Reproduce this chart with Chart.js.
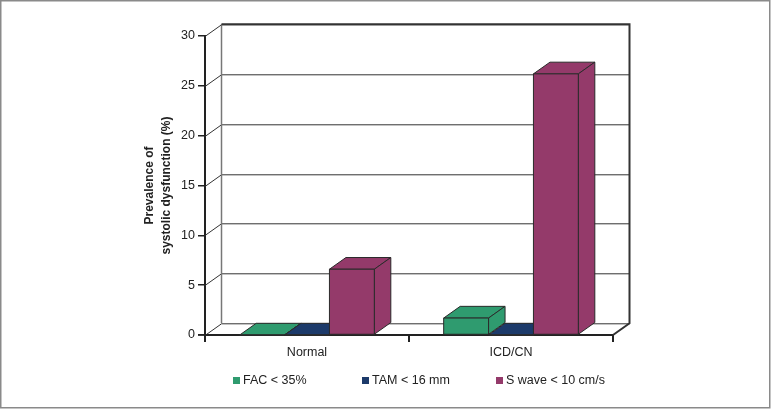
<!DOCTYPE html>
<html>
<head>
<meta charset="utf-8">
<script src="https://cdn.jsdelivr.net/npm/chart.js@4.4.1/dist/chart.umd.min.js"></script>
<style>
  html, body { margin: 0; padding: 0; background: #fff; }
  canvas { display: block; }
</style>
</head>
<body>
<canvas id="myChart" width="771" height="409"></canvas>
<script>
// data
const categories = ["Normal", "ICD/CN"];
const seriesNames = ["FAC < 35%", "TAM < 16 mm", "S wave < 10 cm/s"];
const facValues = [0, 1.7];
const tamValues = [0, 0];
const sWaveValues = [6.6, 26.2];
const yTicks = [0, 5, 10, 15, 20, 25, 30];
const seriesColors = ["#2f9b6f", "#1c3a6a", "#943a6a"];

const FONT = "'Liberation Sans', Arial, sans-serif";
const DX = 16.5; // depth offset of the 3d box
const DY = 11.7;

// draws the back wall, floor and the 3d bars instead of the flat ones
const box3d = {
  id: "box3d",
  beforeDatasetsDraw(chart) {
    const { ctx, chartArea: { left, right, bottom }, scales: { y } } = chart;
    const topY = y.getPixelForValue(30);
    ctx.save();

    // gridlines on the back wall + diagonals from the front axis
    ctx.strokeStyle = "#333";
    ctx.lineWidth = 1;
    yTicks.forEach((v) => {
      const py = Math.round(y.getPixelForValue(v)) + 0.5;
      ctx.beginPath();
      ctx.moveTo(left, py);
      ctx.lineTo(left + DX, py - DY);
      ctx.lineTo(right + DX, py - DY);
      ctx.stroke();
    });

    // left edge of back wall
    ctx.strokeStyle = "#777";
    ctx.lineWidth = 1.5;
    ctx.beginPath();
    ctx.moveTo(left + DX, topY - DY);
    ctx.lineTo(left + DX, bottom - DY);
    ctx.stroke();

    // top and right edge
    ctx.strokeStyle = "#333";
    ctx.lineWidth = 2;
    ctx.beginPath();
    ctx.moveTo(left + DX, topY - DY);
    ctx.lineTo(right + DX, topY - DY);
    ctx.lineTo(right + DX, bottom - DY);
    ctx.lineTo(right, bottom);
    ctx.stroke();

    // zero tick crosses the axis
    ctx.lineWidth = 1.5;
    ctx.strokeStyle = "#222";
    ctx.beginPath();
    ctx.moveTo(left - 7, bottom);
    ctx.lineTo(left + 5, bottom);
    ctx.stroke();

    // bars, left to right so the nearer faces cover
    ctx.strokeStyle = "#2a2a2a";
    ctx.lineWidth = 1;
    ctx.lineJoin = "round";
    categories.forEach((c, j) => {
      chart.data.datasets.forEach((ds, i) => {
        const bar = chart.getDatasetMeta(i).data[j];
        const { x, y: ty, base, width } = bar.getProps(["x", "y", "base", "width"], true);
        const x0 = x - width / 2;
        const x1 = x + width / 2;
        ctx.fillStyle = ds.backgroundColor;

        // top
        ctx.beginPath();
        ctx.moveTo(x0, ty);
        ctx.lineTo(x0 + DX, ty - DY);
        ctx.lineTo(x1 + DX, ty - DY);
        ctx.lineTo(x1, ty);
        ctx.closePath();
        ctx.fill();
        ctx.stroke();

        // side
        ctx.beginPath();
        ctx.moveTo(x1, ty);
        ctx.lineTo(x1 + DX, ty - DY);
        ctx.lineTo(x1 + DX, base - DY);
        ctx.lineTo(x1, base);
        ctx.closePath();
        ctx.fill();
        ctx.stroke();

        // front
        ctx.beginPath();
        ctx.rect(x0, ty, width, base - ty);
        ctx.fill();
        ctx.stroke();
      });
    });

    ctx.restore();
    return false;
  },
  afterDraw(chart) {
    const { ctx } = chart;
    ctx.save();
    // legend
    const itemX = [233, 362, 496];
    ctx.font = "12.5px " + FONT;
    ctx.textBaseline = "middle";
    chart.data.datasets.forEach((ds, i) => {
      ctx.fillStyle = ds.backgroundColor;
      ctx.fillRect(itemX[i], 377, 7, 7);
      ctx.fillStyle = "#222";
      ctx.fillText(ds.label, itemX[i] + 10, 381);
    });
    // frame round the figure
    ctx.strokeStyle = "#8a8a8a";
    ctx.lineWidth = 1.5;
    ctx.strokeRect(0.75, 0.75, 769, 407);
    ctx.restore();
  },
};

const data = {
  labels: categories,
  datasets: [
    { label: seriesNames[0], data: facValues, backgroundColor: seriesColors[0] },
    { label: seriesNames[1], data: tamValues, backgroundColor: seriesColors[1] },
    { label: seriesNames[2], data: sWaveValues, backgroundColor: seriesColors[2] },
  ],
};

const config = {
  type: "bar",
  data: data,
  options: {
    responsive: false,
    animation: false,
    categoryPercentage: 0.66,
    barPercentage: 1,
    layout: { padding: { top: 36, left: 140, right: 158, bottom: 44 } },
    plugins: {
      legend: { display: false },
      tooltip: { enabled: false },
    },
    scales: {
      x: {
        afterFit(scale) { scale.height = 30; },
        grid: { drawOnChartArea: false, drawTicks: true, tickLength: 7, color: "#222", lineWidth: 2, offset: true },
        border: { display: true, color: "#222", width: 2 },
        ticks: { color: "#222", font: { family: FONT, size: 12.5 }, padding: 3 },
      },
      y: {
        min: 0,
        max: 30,
        afterFit(scale) { scale.width = 65; },
        afterBuildTicks(scale) { scale.ticks = yTicks.map((v) => ({ value: v })); },
        grid: { drawOnChartArea: false, drawTicks: true, tickLength: 7, color: "#222", lineWidth: 1.5 },
        border: { display: true, color: "#222", width: 2 },
        ticks: { color: "#222", font: { family: FONT, size: 12.5 }, padding: 3 },
        title: {
          display: true,
          text: ["Prevalence of", "systolic dysfunction (%)"],
          color: "#222",
          font: { family: FONT, size: 12, weight: "bold", lineHeight: 1.4 },
          padding: { top: 1.5, bottom: 0 },
        },
      },
    },
  },
  plugins: [box3d],
};

const myChart = new Chart(document.getElementById("myChart"), config);
</script>
</body>
</html>
